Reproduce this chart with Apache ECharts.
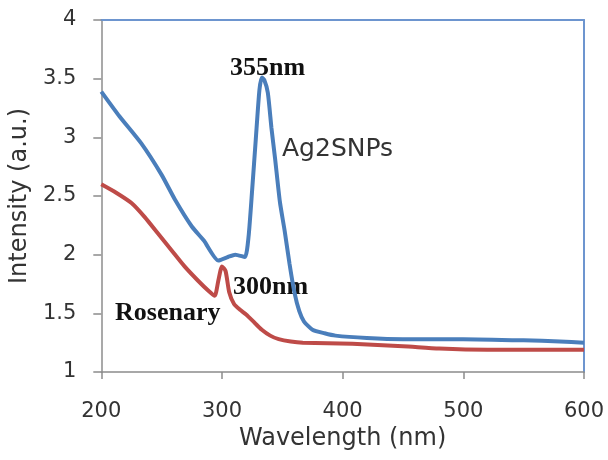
<!DOCTYPE html>
<html>
<head>
	<meta charset="utf-8">
	<title>Absorbance spectra</title>
	<style>
		* { margin: 0; padding: 0; }
		body { background: #fff; }
		#chart { width: 608px; height: 460px; }
	</style>
	<script src="https://cdn.jsdelivr.net/npm/echarts@6/dist/echarts.min.js"></script>
</head>
<body>
<div id="chart"></div>
<script>
	// wavelength (nm) and intensity
	var ag2sWave = [200, 215, 233, 250, 261, 275, 285, 297, 305, 311, 319, 322, 325, 328, 331, 333, 335, 338, 341, 344, 348, 352, 356, 360, 364, 368, 375, 385, 394, 420, 450, 500, 550, 580, 600];
	var ag2sVal  = [3.39, 3.18, 2.95, 2.68, 2.47, 2.24, 2.12, 1.95, 1.98, 2.00, 1.98, 2.15, 2.55, 2.98, 3.40, 3.51, 3.49, 3.38, 3.08, 2.82, 2.45, 2.20, 1.92, 1.68, 1.52, 1.43, 1.36, 1.33, 1.31, 1.29, 1.28, 1.28, 1.27, 1.26, 1.25];

	var roseWave = [200, 212, 225, 236, 247, 258, 269, 280, 289, 294, 297, 300, 303, 306, 310, 315, 320, 327, 333, 340, 347, 357, 367, 408, 450, 480, 520, 560, 600];
	var roseVal  = [2.60, 2.53, 2.44, 2.32, 2.18, 2.04, 1.90, 1.78, 1.69, 1.65, 1.78, 1.90, 1.86, 1.68, 1.58, 1.53, 1.49, 1.42, 1.36, 1.31, 1.28, 1.26, 1.25, 1.24, 1.22, 1.20, 1.19, 1.19, 1.19];

	function pairs(xs, ys) {
		var out = [];
		for (var i = 0; i < xs.length; i++) out.push([xs[i], ys[i]]);
		return out;
	}

	var axisGray = '#8c8c8c';
	var textGray = '#333';
	var labelFont = { color: textGray, fontSize: 21, fontFamily: 'DejaVu Sans' };
	var nameFont = { color: textGray, fontSize: 24, fontFamily: 'DejaVu Sans' };
	var boldSerif = { fill: '#111', fontFamily: 'Liberation Serif', fontWeight: 'bold', fontSize: 26 };

	var chart = echarts.init(document.getElementById('chart'));
	chart.setOption({
		animation: false,
		grid: { left: 100, right: 24, top: 20, bottom: 88 },
		xAxis: [{
			type: 'value', min: 200, max: 600, interval: 100,
			name: 'Wavelength (nm)', nameLocation: 'middle', nameGap: 55,
			nameTextStyle: nameFont,
			axisLine: { lineStyle: { color: axisGray, width: 1.5 } },
			axisTick: { length: 7, lineStyle: { color: axisGray, width: 1.5 } },
			axisLabel: Object.assign({ margin: 29 }, labelFont),
			splitLine: { show: false }
		}, {
			type: 'value', min: 200, max: 600, position: 'top',
			axisLine: { show: true, lineStyle: { color: '#6d95cf', width: 2 } },
			axisTick: { show: false }, axisLabel: { show: false }, splitLine: { show: false }
		}],
		yAxis: [{
			type: 'value', min: 1, max: 4, interval: 0.5,
			name: 'Intensity (a.u.)', nameLocation: 'middle', nameGap: 67,
			nameTextStyle: nameFont,
			axisLine: { show: true, lineStyle: { color: axisGray, width: 1.5 } },
			axisTick: { show: true, length: 8, lineStyle: { color: axisGray, width: 1.5 } },
			axisLabel: Object.assign({ margin: 25 }, labelFont),
			splitLine: { show: false }
		}, {
			type: 'value', min: 1, max: 4, position: 'right',
			axisLine: { show: true, lineStyle: { color: '#6d95cf', width: 2 } },
			axisTick: { show: false }, axisLabel: { show: false }, splitLine: { show: false }
		}],
		series: [{
			name: 'Rosenary', type: 'line', showSymbol: false, smooth: 0.2,
			lineStyle: { color: '#be4b48', width: 4 },
			data: pairs(roseWave, roseVal)
		}, {
			name: 'Ag2SNPs', type: 'line', showSymbol: false, smooth: 0.2,
			lineStyle: { color: '#4a7ebb', width: 4 },
			data: pairs(ag2sWave, ag2sVal)
		}],
		graphic: [
			{ type: 'text', left: 230, top: 55, silent: true, style: Object.assign({ text: '355nm' }, boldSerif) },
			{ type: 'text', left: 233, top: 274, silent: true, style: Object.assign({ text: '300nm' }, boldSerif) },
			{ type: 'text', left: 115, top: 300, silent: true, style: Object.assign({ text: 'Rosenary' }, boldSerif) },
			{ type: 'text', left: 282, top: 137, silent: true, style: { text: 'Ag2SNPs', fill: textGray, fontFamily: 'DejaVu Sans', fontSize: 25 } }
		]
	});
</script>
</body>
</html>
